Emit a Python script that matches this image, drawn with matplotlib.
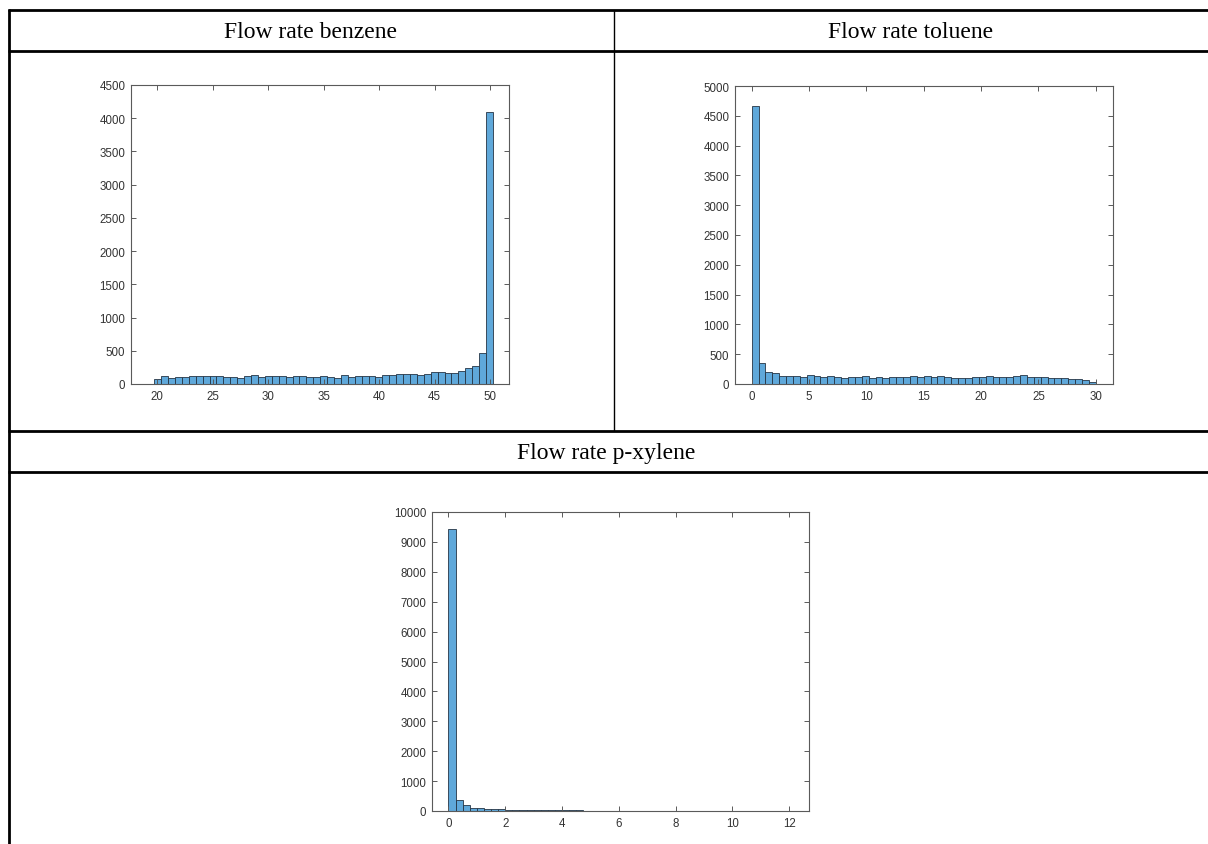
import numpy as np
import matplotlib
matplotlib.use("Agg")
import matplotlib.pyplot as plt
from matplotlib.lines import Line2D

# ---------------- data ----------------
titles = ["Flow rate benzene", "Flow rate toluene", "Flow rate p-xylene"]

benzene_start = 19.75
benzene_width = 0.6224
benzene_counts = [70, 115, 90, 105, 100, 120, 120, 115, 115, 115,
                  100, 100, 90, 115, 135, 105, 115, 115, 115, 105,
                  115, 115, 110, 105, 125, 100, 95, 135, 100, 125,
                  115, 115, 110, 140, 135, 145, 145, 145, 140, 155,
                  175, 180, 165, 165, 200, 240, 275, 470, 4090]

toluene_start = 0.0
toluene_width = 0.6
toluene_counts = [4670, 346, 207, 179, 134, 134, 134, 123, 151, 134,
                  123, 140, 117, 100, 117, 112, 140, 100, 117, 95,
                  117, 117, 117, 128, 112, 140, 117, 128, 123, 106,
                  106, 106, 112, 112, 134, 123, 123, 123, 128, 151,
                  123, 112, 112, 100, 95, 95, 90, 90, 73, 34]

xylene_start = 0.0
xylene_width = 0.25
xylene_counts = [9430, 380, 190, 110, 90, 78, 67, 67, 50, 40,
                 35, 30, 28, 25, 22, 20, 25, 20, 18, 15,
                 12, 10, 6, 8, 5, 4, 4, 3, 3, 3,
                 2, 2, 2, 2, 2, 1, 1, 1, 2, 1,
                 1, 1, 1, 1, 1, 1, 1, 1]

benzene_xticks = [20, 25, 30, 35, 40, 45, 50]
benzene_yticks = [0, 500, 1000, 1500, 2000, 2500, 3000, 3500, 4000, 4500]
toluene_xticks = [0, 5, 10, 15, 20, 25, 30]
toluene_yticks = [0, 500, 1000, 1500, 2000, 2500, 3000, 3500, 4000, 4500, 5000]
xylene_xticks = [0, 2, 4, 6, 8, 10, 12]
xylene_yticks = [0, 1000, 2000, 3000, 4000, 5000, 6000, 7000, 8000, 9000, 10000]

# ---------------- figure ----------------
W, H = 1208, 845
fig = plt.figure(figsize=(W / 100, H / 100), dpi=100)
fig.patch.set_facecolor("white")

FACE = "#5FA8DA"
EDGE = "#253545"
AXC = "#5a5a5a"
TXT = "#333333"


def px_axes(left, top, right, bottom):
    return fig.add_axes([left / W, 1 - bottom / H, (right - left) / W, (bottom - top) / H])


def hist_panel(ax, start, width, counts, xlim, ylim, xticks, yticks):
    counts = np.asarray(counts, dtype=float)
    edges = start + width * np.arange(len(counts) + 1)
    ax.bar(edges[:-1], counts, width=width, align="edge",
           color=FACE, edgecolor=EDGE, linewidth=0.6)
    ax.set_xlim(*xlim)
    ax.set_ylim(*ylim)
    ax.set_xticks(xticks)
    ax.set_yticks(yticks)
    ax.tick_params(direction="in", length=3.5, width=0.7, colors=AXC,
                   labelcolor=TXT, labelsize=8.3, top=True, right=True, pad=4)
    for lab in ax.get_xticklabels() + ax.get_yticklabels():
        lab.set_family(["Liberation Sans", "DejaVu Sans"])
    for s in ax.spines.values():
        s.set_color(AXC)
        s.set_linewidth(0.8)


ax1 = px_axes(131, 86, 509, 385)
hist_panel(ax1, benzene_start, benzene_width, benzene_counts,
           (17.65, 51.7), (0, 4500), benzene_xticks, benzene_yticks)

ax2 = px_axes(735, 87, 1113, 385)
hist_panel(ax2, toluene_start, toluene_width, toluene_counts,
           (-1.45, 31.5), (0, 5000), toluene_xticks, toluene_yticks)

ax3 = px_axes(432, 513, 809, 812)
hist_panel(ax3, xylene_start, xylene_width, xylene_counts,
           (-0.58, 12.7), (0, 10000), xylene_xticks, xylene_yticks)

# ---------------- table lines ----------------
def hline(y, x0, x1, lw):
    fig.add_artist(Line2D([x0 / W, x1 / W], [1 - y / H, 1 - y / H],
                          color="black", linewidth=lw, solid_capstyle="butt"))


def vline(x, y0, y1, lw):
    fig.add_artist(Line2D([x / W, x / W], [1 - y0 / H, 1 - y1 / H],
                          color="black", linewidth=lw, solid_capstyle="butt"))


hline(11, 8, W, 2.0)
hline(51.5, 8, W, 2.0)
hline(432, 8, W, 2.0)
hline(473, 8, W, 2.0)
vline(9, 10, H, 2.0)
vline(614, 11, 432, 1.0)

serif = ["Liberation Serif", "DejaVu Serif"]
fig.text(311 / W, 1 - 33 / H, titles[0], ha="center", va="center",
         fontsize=17, family=serif, color="black")
fig.text(911 / W, 1 - 33 / H, titles[1], ha="center", va="center",
         fontsize=17, family=serif, color="black")
fig.text(606 / W, 1 - 454 / H, titles[2], ha="center", va="center",
         fontsize=17, family=serif, color="black")

fig.savefig("out.png", dpi=100, facecolor="white")
